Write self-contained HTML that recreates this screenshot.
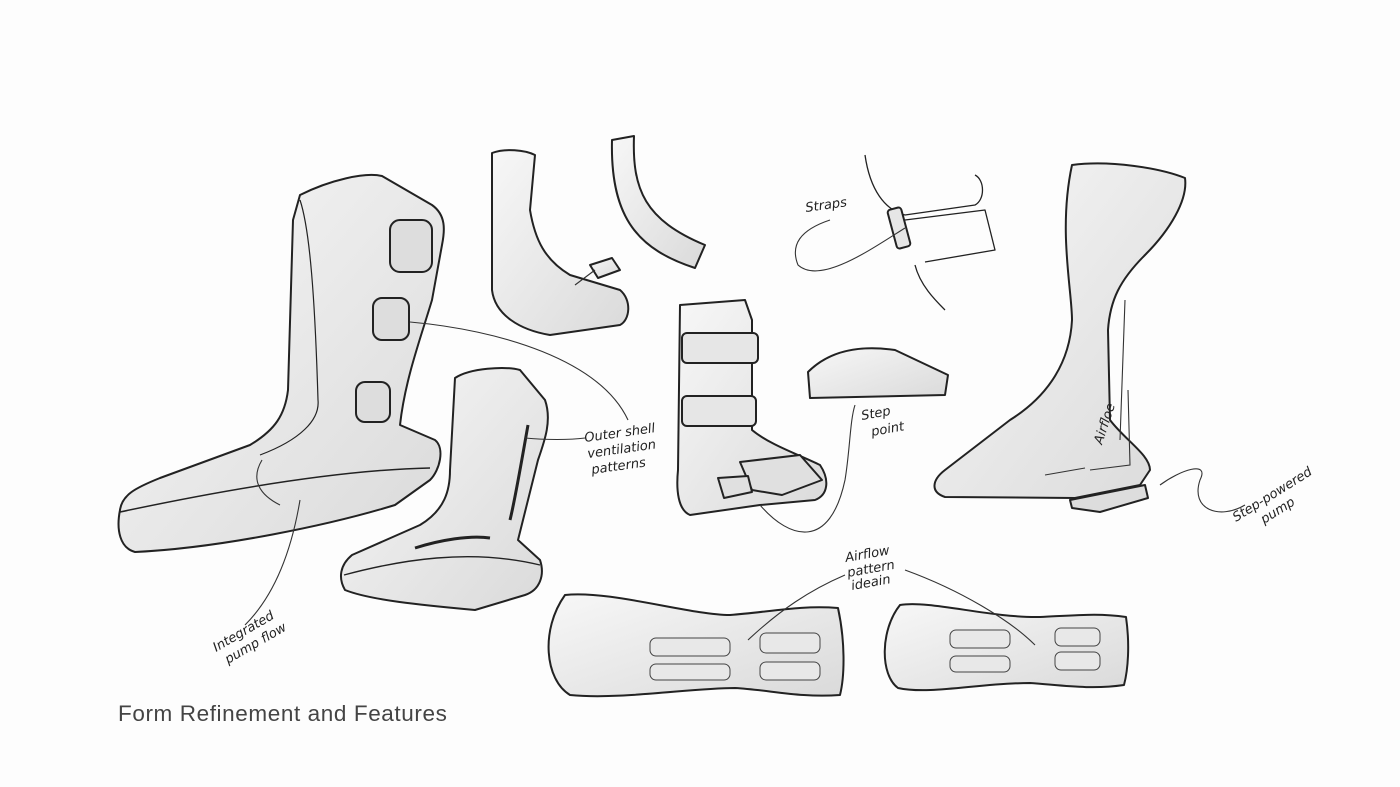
<!DOCTYPE html>
<html><head><meta charset="utf-8"><style>
html,body{margin:0;padding:0;background:#fdfdfd;}
svg{display:block}
.l{font-family:"DejaVu Sans","Liberation Sans",sans-serif;font-style:italic;font-size:13px;fill:#222}
</style></head><body>
<svg width="1400" height="787" viewBox="0 0 1400 787" xmlns="http://www.w3.org/2000/svg">
<defs>
<linearGradient id="g" x1="0" y1="0" x2="1" y2="1"><stop offset="0" stop-color="#f7f7f7"/><stop offset="1" stop-color="#dadada"/></linearGradient>
</defs>
<rect width="1400" height="787" fill="#fdfdfd"/>
<g stroke="#222" stroke-width="2" fill="url(#g)" stroke-linejoin="round">
<path d="M300,195 C330,180 365,172 382,176 L432,205 C446,215 445,230 442,245 L432,300 C420,340 405,380 400,425 L435,440 C445,448 440,470 430,480 L395,505 C330,525 220,548 135,552 C120,548 116,530 120,510 C122,495 135,488 160,478 L250,445 C275,430 285,415 288,390 L293,220 Z"/>
<path d="M120,512 C200,495 330,470 430,468" fill="none" stroke-width="1.5"/>
<path d="M300,200 C310,230 315,300 318,400 C320,420 300,440 260,455" fill="none" stroke-width="1.2"/>
<rect x="390" y="220" width="42" height="52" rx="10" fill="#ddd"/>
<rect x="373" y="298" width="36" height="42" rx="9" fill="#ddd"/>
<rect x="356" y="382" width="34" height="40" rx="9" fill="#ddd"/>
<path d="M455,378 C470,368 505,366 520,370 L545,400 C552,420 545,440 538,460 L518,540 L540,560 C545,575 540,590 525,595 L475,610 C420,605 370,600 345,590 C338,578 340,565 352,555 L420,525 C445,510 450,490 450,470 Z"/>
<path d="M344,575 C400,560 470,548 540,565" fill="none" stroke-width="1.4"/>
<path d="M528,425 C520,470 515,500 510,520" fill="none" stroke-width="3"/>
<path d="M415,548 C440,540 470,535 490,538" fill="none" stroke-width="3"/>
<path d="M492,153 C505,148 525,150 535,155 L530,210 C535,240 545,260 570,275 L620,290 C632,300 630,320 620,325 L550,335 C520,330 495,315 492,290 Z"/>
<path d="M612,140 L634,136 C632,190 645,220 705,245 L695,268 C640,250 610,220 612,140 Z"/>
<path d="M590,265 L612,258 L620,270 L598,278 Z"/>
<path d="M680,305 L745,300 L752,320 L752,430 C770,445 800,455 820,465 C830,480 828,495 815,500 L760,505 L690,515 C678,510 676,490 678,470 Z"/>
<rect x="682" y="333" width="76" height="30" rx="5" fill="#e6e6e6"/>
<rect x="682" y="396" width="74" height="30" rx="5" fill="#e6e6e6"/>
<path d="M740,462 L800,455 L822,480 L782,495 L752,490 Z" fill="#e0e0e0"/>
<path d="M718,478 L748,476 L752,492 L724,498 Z" fill="#e0e0e0"/>
<path d="M808,372 C830,350 860,345 895,350 L948,375 L945,395 L810,398 Z"/>
<path d="M865,155 C870,190 885,210 905,215 L975,205 C985,200 985,180 975,175 M905,220 L985,210 L995,250 L925,262 M915,265 C920,285 935,300 945,310" fill="none" stroke-width="1.3"/>
<rect x="892" y="208" width="14" height="40" rx="3" fill="#e6e6e6" transform="rotate(-15 899 228)"/>
<path d="M1072,165 C1110,160 1160,168 1185,178 C1188,200 1170,230 1145,255 C1120,280 1110,300 1108,330 L1110,420 C1125,440 1150,455 1150,470 L1140,485 L1075,498 L945,497 C930,492 932,480 945,470 L1010,420 C1050,395 1070,360 1072,320 C1072,290 1058,230 1072,165 Z"/>
<path d="M1070,500 L1145,485 L1148,498 L1100,512 L1072,508 Z" fill="#ddd"/>
<path d="M565,595 C610,590 690,615 730,615 C770,612 800,605 838,608 C845,640 845,675 840,695 C800,698 770,690 735,688 C690,688 620,700 570,695 C545,680 540,630 565,595 Z"/>
<path d="M900,605 C930,600 990,618 1040,617 C1080,615 1100,613 1126,617 C1130,645 1128,670 1124,685 C1090,690 1060,685 1030,683 C980,683 930,695 898,688 C880,675 880,630 900,605 Z"/>
</g>
<g fill="#e8e8e8" stroke="#444" stroke-width="1">
<rect x="650" y="638" width="80" height="18" rx="6"/><rect x="760" y="633" width="60" height="20" rx="6"/>
<rect x="650" y="664" width="80" height="16" rx="6"/><rect x="760" y="662" width="60" height="18" rx="6"/>
<rect x="950" y="630" width="60" height="18" rx="6"/><rect x="1055" y="628" width="45" height="18" rx="6"/>
<rect x="950" y="656" width="60" height="16" rx="6"/><rect x="1055" y="652" width="45" height="18" rx="6"/>
</g>
<g fill="none" stroke="#333" stroke-width="1.1">
<path d="M410,322 C500,330 600,360 628,420"/>
<path d="M525,438 C545,440 570,440 585,438"/>
<path d="M300,500 C290,560 270,600 245,625"/>
<path d="M262,460 C250,480 260,495 280,505"/>
<path d="M760,505 C790,540 830,550 845,480 C850,450 850,420 855,405"/>
<path d="M575,285 L595,270"/>
<path d="M905,228 C870,250 820,285 798,265 C790,245 800,230 830,220"/>
<path d="M1245,505 C1220,520 1190,510 1200,480 C1210,460 1180,470 1160,485"/>
<path d="M1090,470 L1130,465 L1128,390 M1120,440 L1125,300"/>
<path d="M1045,475 L1085,468"/>
<path d="M845,575 C810,590 780,610 748,640"/>
<path d="M905,570 C960,590 1010,620 1035,645"/>
</g>
<text class="l" transform="translate(806,212) rotate(-8)">Straps</text>
<text class="l" transform="translate(585,442) rotate(-8)">Outer shell</text>
<text class="l" transform="translate(588,458) rotate(-8)">ventilation</text>
<text class="l" transform="translate(592,474) rotate(-8)">patterns</text>
<text class="l" transform="translate(862,420) rotate(-10)">Step</text>
<text class="l" transform="translate(872,436) rotate(-10)">point</text>
<text class="l" transform="translate(1102,445) rotate(-72)">Airfloe</text>
<text class="l" transform="translate(1236,522) rotate(-32)">Step-powered</text>
<text class="l" transform="translate(1264,524) rotate(-32)">pump</text>
<text class="l" transform="translate(216,652) rotate(-30)">Integrated</text>
<text class="l" transform="translate(228,664) rotate(-30)">pump flow</text>
<text class="l" transform="translate(846,562) rotate(-10)">Airflow</text>
<text class="l" transform="translate(848,577) rotate(-10)">pattern</text>
<text class="l" transform="translate(852,590) rotate(-10)">ideain</text>
<text x="118" y="721" font-family="Liberation Sans, sans-serif" font-size="22.5" letter-spacing="0.6" fill="#444">Form Refinement and Features</text>
</svg>
</body></html>
